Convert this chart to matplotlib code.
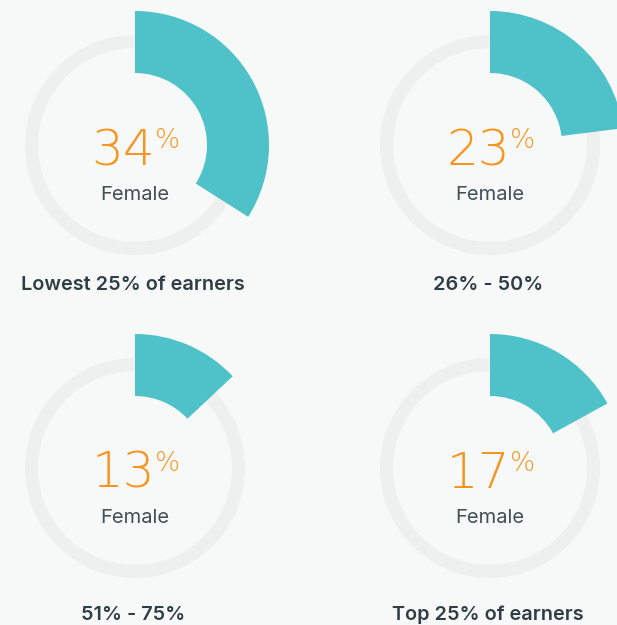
import matplotlib.pyplot as plt
from matplotlib.patches import Wedge

# data
groups = ["Lowest 25% of earners", "26% - 50%", "51% - 75%", "Top 25% of earners"]
female_pct = [34, 23, 13, 17]
sub_label = "Female"

teal = "#4fc1c8"
ring_grey = "#eeefef"
orange = "#f7941d"
dark = "#2f3e44"
mid = "#434f54"
bg = "#f7f9f9"

fig = plt.figure(figsize=(6.17, 6.25), dpi=100, facecolor=bg)
ax = fig.add_axes([0, 0, 1, 1])
ax.set_xlim(0, 617)
ax.set_ylim(0, 625)
ax.set_facecolor(bg)
ax.axis("off")

# donut centres in pixel coords (y up)
centres = [(135, 480), (490, 480), (135, 157), (490, 157)]
title_y = [340, 340, 10, 10]

fig.canvas.draw()
r = fig.canvas.get_renderer()

for i, (cx, cy) in enumerate(centres):
    p = female_pct[i]
    # grey background ring
    ax.add_patch(Wedge((cx, cy), 110, 0, 360, width=13, color=ring_grey, lw=0))
    # teal wedge, clockwise from top
    ax.add_patch(Wedge((cx, cy), 134, 90 - 3.6 * p, 90, width=62, color=teal, lw=0))

    # big number + small %
    t1 = ax.text(0, cy - 20, str(p), fontsize=36, color=orange, family="DejaVu Sans",
                 weight=200, ha="left", va="baseline")
    t2 = ax.text(0, cy + 17, "%", fontsize=19, color=orange, family="DejaVu Sans",
                 weight=200, ha="left", va="top")
    w1 = t1.get_window_extent(r).width
    w2 = t2.get_window_extent(r).width
    x0 = cx - (w1 + w2) / 2 + 1
    t1.set_x(x0)
    t2.set_x(x0 + w1)

    ax.text(cx, cy - 50, sub_label, fontsize=14.5, color=mid, family="Inter",
            ha="center", va="center")
    ax.text(cx - 2, title_y[i], groups[i], fontsize=14.3, color=dark, family="Inter",
            weight=600, ha="center", va="center")

fig.savefig("out.png", dpi=100, facecolor=bg)
